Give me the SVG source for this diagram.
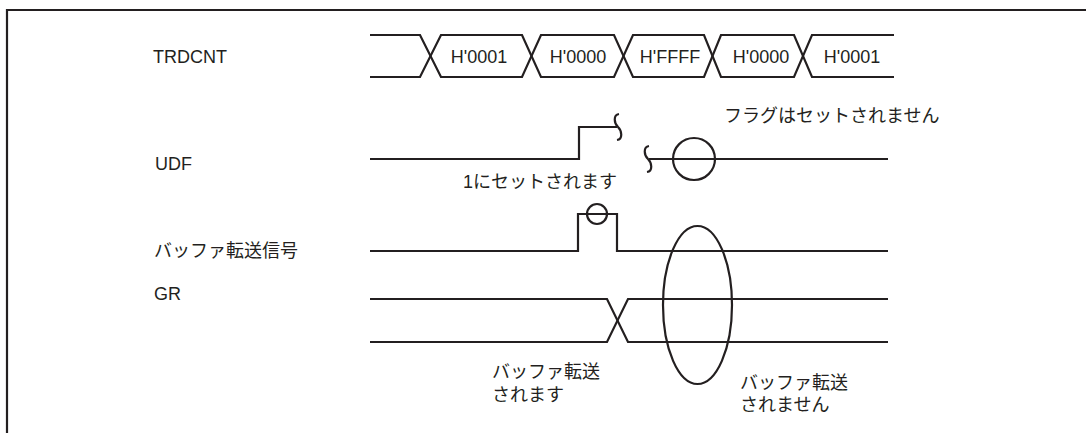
<svg xmlns="http://www.w3.org/2000/svg" width="1086" height="433" viewBox="0 0 1086 433">
<style>
.ln{fill:none;stroke:#231f20;stroke-width:2.2;stroke-linejoin:miter}
.lb{font-family:"Liberation Sans","Noto Sans CJK JP",sans-serif;font-size:18px;fill:#231f20}
.jp{font-family:"Noto Sans CJK JP",sans-serif;font-size:18px;fill:#231f20}
.mid{text-anchor:middle}
</style>
<defs>
<path id="brk" class="ln" d="M1,-13 C-5,-12 -4,-4 0,0 C4,4 5,12 -1,13"/>
</defs>
<g id="frame">
<path class="ln" d="M7,433 V10 H1086" stroke-width="2.5"/>
</g>
<g id="labels">
<text class="lb" x="153" y="63">TRDCNT</text>
<text class="lb" x="155" y="170">UDF</text>
<text class="jp" x="154" y="257">バッファ転送信号</text>
<text class="lb" x="154" y="300">GR</text>
</g>
<g id="trdcnt">
<path class="ln" d="M370,35 H420 L441,77 H522 L541,35 H614 L633,77 H704 L721,35 H794 L812,77 H894"/>
<path class="ln" d="M370,77 H420 L441,35 H522 L541,77 H614 L633,35 H704 L721,77 H794 L812,35 H894"/>
<text class="lb mid" x="479" y="63">H'0001</text>
<text class="lb mid" x="578" y="63">H'0000</text>
<text class="lb mid" x="670" y="63">H'FFFF</text>
<text class="lb mid" x="761" y="63">H'0000</text>
<text class="lb mid" x="852" y="63">H'0001</text>
</g>
<g id="udf">
<path class="ln" d="M370,159 H579 V127 H617"/>
<use href="#brk" x="618" y="127"/>
<use href="#brk" x="648" y="159"/>
<path class="ln" d="M649,159 H888"/>
<circle class="ln" cx="694" cy="159" r="21"/>
<text class="lb" x="463" y="188">1にセットされます</text>
<text class="jp" x="724" y="122">フラグはセットされません</text>
</g>
<g id="buffer">
<path class="ln" d="M370,251 H578 V214 H617 V251 H888"/>
<circle class="ln" cx="597" cy="214" r="10"/>
</g>
<g id="gr">
<path class="ln" d="M370,299 H607 L628,342 H888"/>
<path class="ln" d="M370,342 H607 L628,299 H888"/>
<ellipse class="ln" cx="697.5" cy="305" rx="34.5" ry="79"/>
<text class="jp" x="492" y="378">バッファ転送<tspan x="492" y="401">されます</tspan></text>
<text class="jp" x="740" y="389">バッファ転送<tspan x="740" y="411">されません</tspan></text>
</g>
</svg>
